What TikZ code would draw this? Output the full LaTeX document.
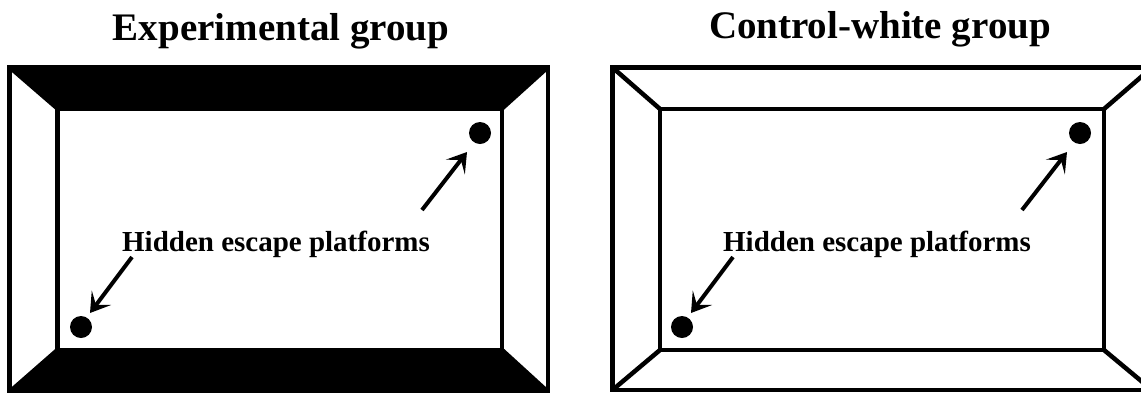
\documentclass[tikz,border=0pt]{standalone}
\usepackage{fontspec}
\setmainfont{Liberation Serif}
\usetikzlibrary{arrows.meta}
\begin{document}
\begin{tikzpicture}[x=1pt,y=-1pt,
  wall/.style={line width=4.5pt,line join=miter},
  dot/.style={circle,fill=black,inner sep=0pt,minimum size=22pt},
  ptr/.style={line width=4pt,-{Stealth[length=19pt,width=24pt,inset=9pt]}},
  title/.style={font=\bfseries\fontsize{39}{44}\selectfont,anchor=base,inner sep=0pt},
  lbl/.style={font=\bfseries\fontsize{29}{34}\selectfont,anchor=base,inner sep=0pt}]
\useasboundingbox (0,0) rectangle (1141,392);
% ---- left (experimental) box ----
\fill (9.5,67) -- (548,67) -- (502,108.5) -- (57.5,108.5) -- cycle;
\fill (57.5,350) -- (502,350) -- (548,392) -- (9.5,392) -- cycle;
\draw[wall] (9.5,67) rectangle (548,394);
\draw[wall] (57.5,108.5) rectangle (502,350);
\draw[wall] (9.5,67) -- (57.5,108.5);
\draw[wall] (548,67) -- (502,108.5);
\draw[wall] (9.5,392) -- (57.5,350);
\draw[wall] (548,392) -- (502,350);
% ---- right (control-white) box ----
\draw[wall] (612.5,67.5) rectangle (1152,390);
\draw[wall] (660,109) rectangle (1104,350);
\draw[wall] (612.5,67.5) -- (660,109);
\draw[wall] (1152,67.5) -- (1104,109);
\draw[wall] (612.5,390) -- (660,350);
\draw[wall] (1152,390) -- (1104,350);
% ---- titles ----
\node[title] (t1) at (281,40) {Experimental group};
\node[title] (t2) at (880,38) {Control-white group};
% ---- labels ----
\node[lbl] (l1) at (276,251) {Hidden escape platforms};
\node[lbl] (l2) at (877,251) {Hidden escape platforms};
% ---- platforms ----
\node[dot] (p1) at (480,133) {};
\node[dot] (p2) at (81,327) {};
\node[dot] (p3) at (1080,133) {};
\node[dot] (p4) at (682,327) {};
% ---- arrows ----
\coordinate (a1s) at (422,210); \coordinate (a1e) at (467,152);
\coordinate (a2s) at (132,257); \coordinate (a2e) at (90,313);
\coordinate (a3s) at (1022,210); \coordinate (a3e) at (1067,152);
\coordinate (a4s) at (733,257); \coordinate (a4e) at (691,313);
\draw[ptr] (a1s) -- (a1e);
\draw[ptr] (a2s) -- (a2e);
\draw[ptr] (a3s) -- (a3e);
\draw[ptr] (a4s) -- (a4e);
\end{tikzpicture}
\end{document}
